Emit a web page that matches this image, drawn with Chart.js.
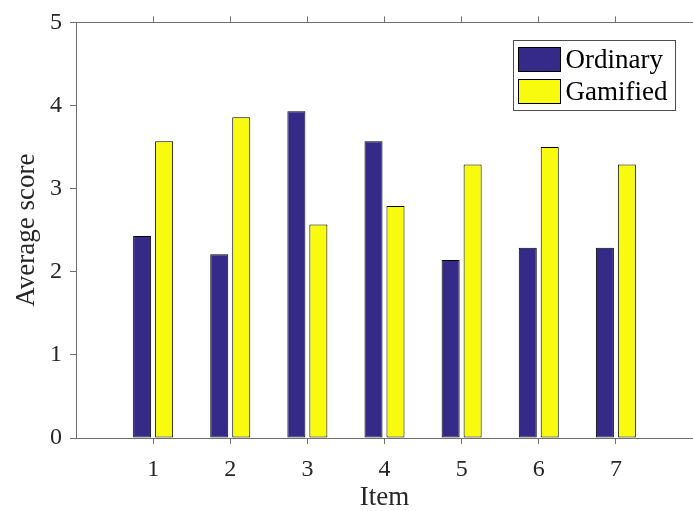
<!DOCTYPE html>
<html>
<head>
<meta charset="utf-8">
<title>Average score per item</title>
<script src="https://cdn.jsdelivr.net/npm/chart.js@4.4.0/dist/chart.umd.min.js"></script>
<style>
  html, body { margin: 0; padding: 0; background: #fff; }
  canvas { display: block; }
</style>
</head>
<body>
<canvas id="score-chart" width="693" height="511"></canvas>
<script>
// Survey results: average score per item, ordinary vs gamified version
const items = [1, 2, 3, 4, 5, 6, 7];
const ordinaryScores = [2.43, 2.21, 3.93, 3.57, 2.14, 2.29, 2.29];
const gamifiedScores = [3.57, 3.86, 2.57, 2.79, 3.29, 3.50, 3.29];
const seriesNames = ['Ordinary', 'Gamified'];
const yTicks = [0, 1, 2, 3, 4, 5];

const axisColor = '#6e6e6e';
const textColor = '#262626';
const serif = '"Liberation Serif", "Times New Roman", serif';

Chart.defaults.font.family = serif;
Chart.defaults.color = textColor;

// keep only the item positions as ticks on the x axes
function itemTicksOnly(scale) {
    scale.ticks = scale.ticks.filter(t => items.includes(t.value));
}

// legend box drawn inside the plot, top right corner
const insideLegend = {
    id: 'insideLegend',
    afterDraw(chart) {
        const { ctx, chartArea } = chart;
        const sets = chart.data.datasets;
        const swatchW = 42, swatchH = 24, rowStep = 32;

        ctx.save();
        ctx.font = '27px ' + serif;
        const textW = Math.max(...sets.map(d => ctx.measureText(d.label).width));
        const boxW = Math.round(5 + swatchW + 5 + textW + 8);
        const boxH = 7 + swatchH + rowStep * (sets.length - 1) + 7;
        const boxX = Math.round(chartArea.right - 18 - boxW) + 0.5;
        const boxY = Math.round(chartArea.top + 18) + 0.5;

        ctx.fillStyle = '#fff';
        ctx.fillRect(boxX, boxY, boxW, boxH);
        ctx.strokeStyle = '#4d4d4d';
        ctx.lineWidth = 1;
        ctx.strokeRect(boxX, boxY, boxW, boxH);

        sets.forEach((d, i) => {
            const sy = boxY + 7 + i * rowStep;
            ctx.fillStyle = d.backgroundColor;
            ctx.fillRect(boxX + 5, sy, swatchW, swatchH);
            ctx.strokeStyle = '#000';
            ctx.strokeRect(boxX + 5, sy, swatchW, swatchH);
            ctx.fillStyle = '#000';
            ctx.textBaseline = 'middle';
            ctx.fillText(d.label, boxX + 5 + swatchW + 5, sy + swatchH / 2 + 1);
        });
        ctx.restore();
    }
};

const axisGrid = {
    drawOnChartArea: false,
    drawTicks: true,
    tickLength: 6,
    offset: false,
    color: axisColor
};
const axisBorder = { display: true, color: axisColor, width: 1 };

const ctx = document.getElementById('score-chart').getContext('2d');

new Chart(ctx, {
    type: 'bar',
    data: {
        datasets: [
            {
                label: seriesNames[0],
                data: items.map((it, i) => ({ x: it, y: ordinaryScores[i] })),
                backgroundColor: '#352a87',
                borderColor: '#000',
                borderWidth: 1,
                borderSkipped: false
            },
            {
                label: seriesNames[1],
                data: items.map((it, i) => ({ x: it, y: gamifiedScores[i] })),
                backgroundColor: '#f9fb0e',
                borderColor: '#000',
                borderWidth: 1,
                borderSkipped: false
            }
        ]
    },
    options: {
        responsive: false,
        animation: false,
        categoryPercentage: 0.57,
        barPercentage: 0.82,
        layout: { padding: { left: 0, top: 0, right: -1, bottom: 0 } },
        plugins: {
            legend: { display: false },
            tooltip: { enabled: false }
        },
        scales: {
            x: {
                type: 'linear',
                position: 'bottom',
                offset: false,
                min: 0,
                max: 8,
                afterBuildTicks: itemTicksOnly,
                afterFit: s => { s.height = 73; },
                grid: axisGrid,
                border: axisBorder,
                ticks: {
                    stepSize: 1,
                    padding: 11,
                    color: textColor,
                    font: { size: 24 }
                },
                title: {
                    display: true,
                    text: 'Item',
                    color: textColor,
                    font: { size: 27, lineHeight: 1 },
                    padding: { top: 0, bottom: 0 }
                }
            },
            xTop: {
                type: 'linear',
                position: 'top',
                offset: false,
                min: 0,
                max: 8,
                afterBuildTicks: itemTicksOnly,
                afterFit: s => { s.height = 18; },
                grid: axisGrid,
                border: axisBorder,
                ticks: { display: false, stepSize: 1 }
            },
            y: {
                min: 0,
                max: 5,
                afterBuildTicks: s => { s.ticks = yTicks.map(v => ({ value: v })); },
                afterFit: s => { s.width = 76; },
                grid: axisGrid,
                border: axisBorder,
                ticks: {
                    padding: 8,
                    color: textColor,
                    font: { size: 24 }
                },
                title: {
                    display: true,
                    text: 'Average score',
                    color: textColor,
                    font: { size: 27, lineHeight: 1.2 },
                    padding: { top: 11, bottom: 0 }
                }
            }
        }
    },
    plugins: [insideLegend]
});
</script>
</body>
</html>
